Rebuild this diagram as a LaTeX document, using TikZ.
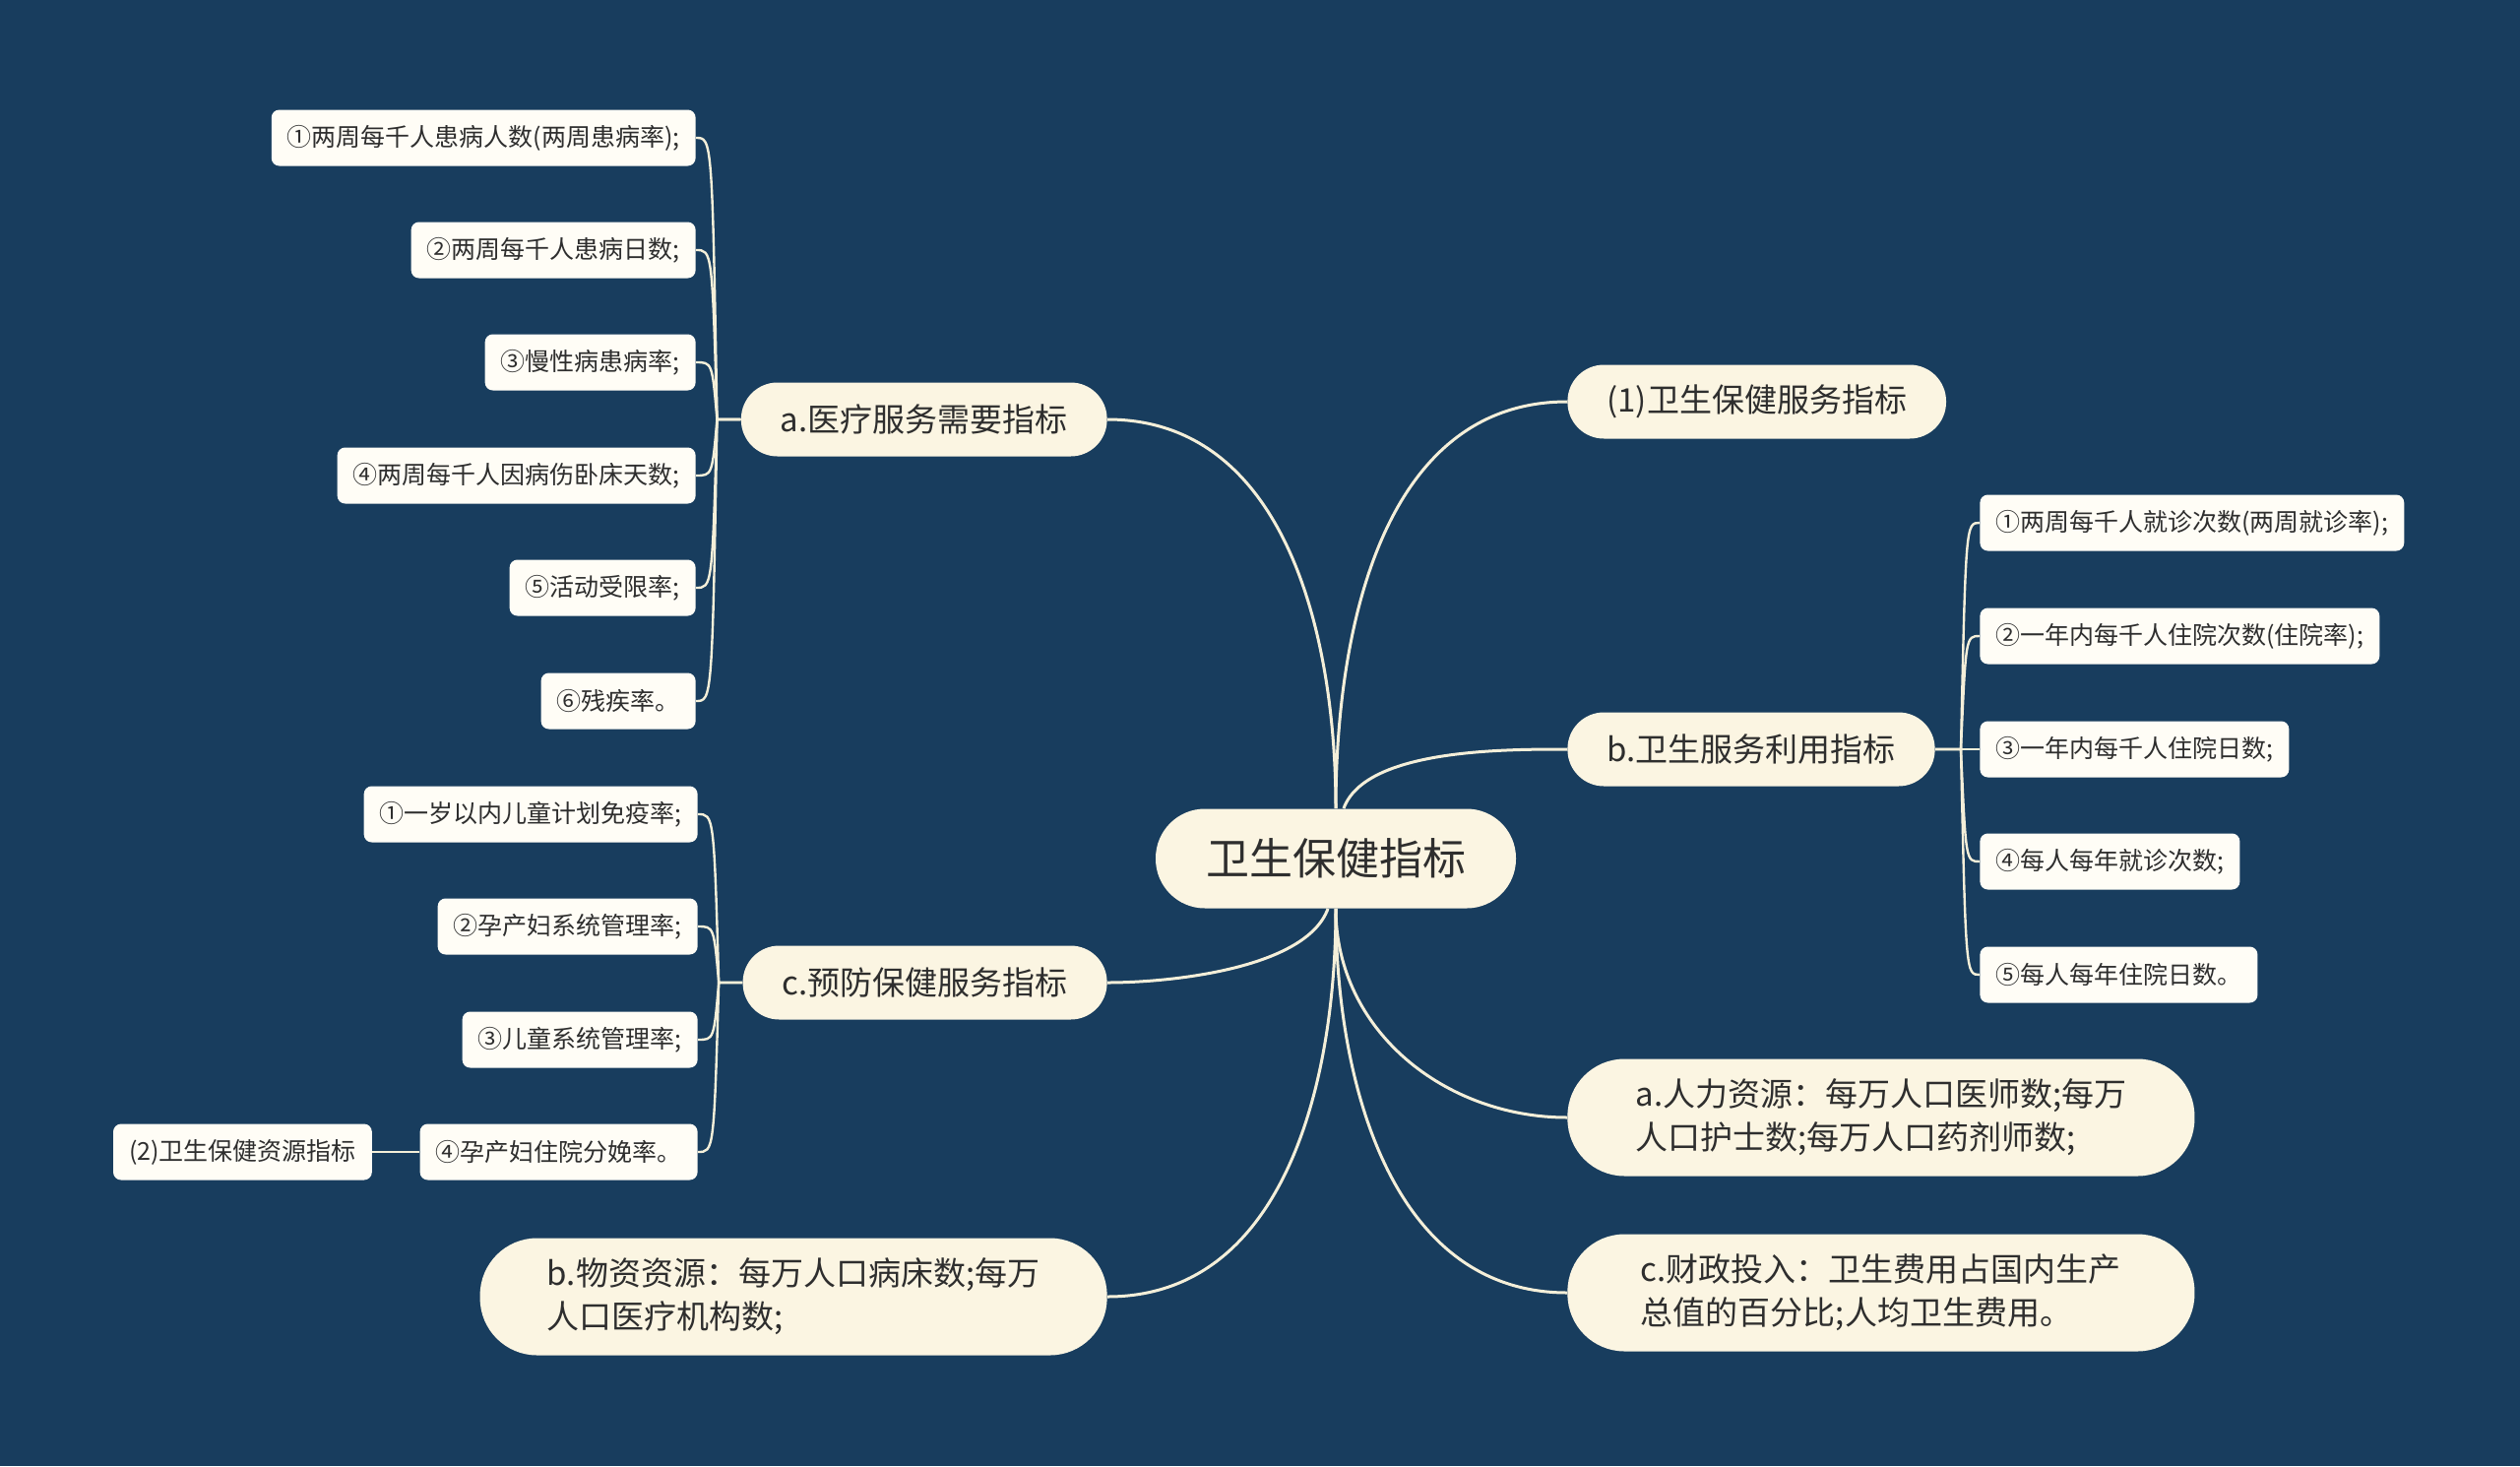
\documentclass[tikz,border=0pt]{standalone}
\usepackage{fontspec}
\setmainfont{Noto Sans CJK SC}
\usepackage{xcolor}
\usepackage{tikz}
\usetikzlibrary{positioning,calc}

\definecolor{bgnavy}{HTML}{183D5E}
\definecolor{creamfill}{HTML}{FBF5E2}
\definecolor{leaffill}{HTML}{FFFDF6}
\definecolor{linecream}{HTML}{F4EFD9}
\definecolor{inkgray}{HTML}{2E2E2E}

\begin{document}
\begin{tikzpicture}[
  x=0.5pt, y=-0.5pt,
  root/.style={fill=creamfill, rounded corners=25pt, minimum height=50.5pt, inner xsep=25.5pt, text=inkgray, font=\fontsize{22}{26}\selectfont},
  branch/.style={fill=creamfill, rounded corners=18.5pt, minimum height=37.5pt, inner xsep=20pt, text=inkgray, font=\fontsize{16.5}{20}\selectfont},
  para/.style={fill=creamfill, rounded corners=29pt, minimum width=318.5pt, minimum height=59.5pt, align=left, text=inkgray, font=\fontsize{16.5}{22}\selectfont},
  leaf/.style={fill=leaffill, rounded corners=4pt, minimum height=28.5pt, inner xsep=8pt, text=inkgray, font=\fontsize{12.5}{15}\selectfont},
  trunk/.style={draw=linecream, line width=1.5pt},
  twig/.style={draw=linecream, line width=1.2pt}
]
\fill[bgnavy] (0,0) rectangle (2560,1489);
\useasboundingbox (0,0) rectangle (2560,1489);

% centre and main branches
\node[root] (root) at (1357,872) {卫生保健指标};
\node[branch, anchor=east] (need) at (1125,426) {a.医疗服务需要指标};
\node[branch, anchor=east] (prev) at (1125,998) {c.预防保健服务指标};
\node[para, anchor=east] (material) at (1125,1317) {b.物资资源：每万人口病床数;每万\\人口医疗机构数;};
\node[branch, anchor=west] (service) at (1592,408) {(1)卫生保健服务指标};
\node[branch, anchor=west] (use) at (1592,761) {b.卫生服务利用指标};
\node[para, anchor=west] (human) at (1592,1135) {a.人力资源：每万人口医师数;每万\\人口护士数;每万人口药剂师数;};
\node[para, anchor=west] (finance) at (1592,1313) {c.财政投入：卫生费用占国内生产\\总值的百分比;人均卫生费用。};

% leaves of a
\node[leaf, anchor=east] (need1) at (707,140) {①两周每千人患病人数(两周患病率);};
\node[leaf, anchor=east] (need2) at (707,254) {②两周每千人患病日数;};
\node[leaf, anchor=east] (need3) at (707,368) {③慢性病患病率;};
\node[leaf, anchor=east] (need4) at (707,483) {④两周每千人因病伤卧床天数;};
\node[leaf, anchor=east] (need5) at (707,597) {⑤活动受限率;};
\node[leaf, anchor=east] (need6) at (707,712) {⑥残疾率。};

% leaves of c
\node[leaf, anchor=east] (prev1) at (709,827) {①一岁以内儿童计划免疫率;};
\node[leaf, anchor=east] (prev2) at (709,941) {②孕产妇系统管理率;};
\node[leaf, anchor=east] (prev3) at (709,1056) {③儿童系统管理率;};
\node[leaf, anchor=east] (prev4) at (709,1170) {④孕产妇住院分娩率。};
\node[leaf, left=24pt of prev4] (resource) {(2)卫生保健资源指标};

% leaves of b
\node[leaf, anchor=west] (use1) at (2011,531) {①两周每千人就诊次数(两周就诊率);};
\node[leaf, anchor=west] (use2) at (2011,646) {②一年内每千人住院次数(住院率);};
\node[leaf, anchor=west] (use3) at (2011,761) {③一年内每千人住院日数;};
\node[leaf, anchor=west] (use4) at (2011,875) {④每人每年就诊次数;};
\node[leaf, anchor=west] (use5) at (2011,990) {⑤每人每年住院日数。};

% trunks
\draw[trunk] (root.north) to[out=90, in=0] (need.east);
\draw[trunk] (root.north) to[out=90, in=180] (service.west);
\draw[trunk] ([xshift=4pt]root.north) to[out=70, in=180, looseness=0.7] (use.west);
\draw[trunk] ([xshift=-4pt]root.south) to[out=-110, in=0, looseness=0.7] (prev.east);
\draw[trunk] (root.south) to[out=-90, in=0] (material.east);
\draw[trunk] (root.south) to[out=-90, in=180] (human.west);
\draw[trunk] (root.south) to[out=-90, in=180] (finance.west);

% hubs for the leaf fans
\coordinate (needhub) at ($(need.west)+(-24,0)$);
\coordinate (needspine) at ($(need.west)+(-29,0)$);
\coordinate (prevhub) at ($(prev.west)+(-24,0)$);
\coordinate (prevspine) at ($(prev.west)+(-29,0)$);
\coordinate (usehub) at ($(use.east)+(26,0)$);
\coordinate (usespine) at ($(use.east)+(31,0)$);

% twigs
\draw[twig] (need.west) -- (needhub) .. controls (needspine |- need1.east) .. (need1.east);
\draw[twig] (need.west) -- (needhub) .. controls (needspine |- need2.east) .. (need2.east);
\draw[twig] (need.west) -- (needhub) .. controls (needspine |- need3.east) .. (need3.east);
\draw[twig] (need.west) -- (needhub) .. controls (needspine |- need4.east) .. (need4.east);
\draw[twig] (need.west) -- (needhub) .. controls (needspine |- need5.east) .. (need5.east);
\draw[twig] (need.west) -- (needhub) .. controls (needspine |- need6.east) .. (need6.east);
\draw[twig] (prev.west) -- (prevhub) .. controls (prevspine |- prev1.east) .. (prev1.east);
\draw[twig] (prev.west) -- (prevhub) .. controls (prevspine |- prev2.east) .. (prev2.east);
\draw[twig] (prev.west) -- (prevhub) .. controls (prevspine |- prev3.east) .. (prev3.east);
\draw[twig] (prev.west) -- (prevhub) .. controls (prevspine |- prev4.east) .. (prev4.east);
\draw[twig] (prev4.west) -- (resource.east);
\draw[twig] (use.east) -- (usehub) .. controls (usespine |- use1.west) .. (use1.west);
\draw[twig] (use.east) -- (usehub) .. controls (usespine |- use2.west) .. (use2.west);
\draw[twig] (use.east) -- (use3.west);
\draw[twig] (use.east) -- (usehub) .. controls (usespine |- use4.west) .. (use4.west);
\draw[twig] (use.east) -- (usehub) .. controls (usespine |- use5.west) .. (use5.west);
\end{tikzpicture}
\end{document}
